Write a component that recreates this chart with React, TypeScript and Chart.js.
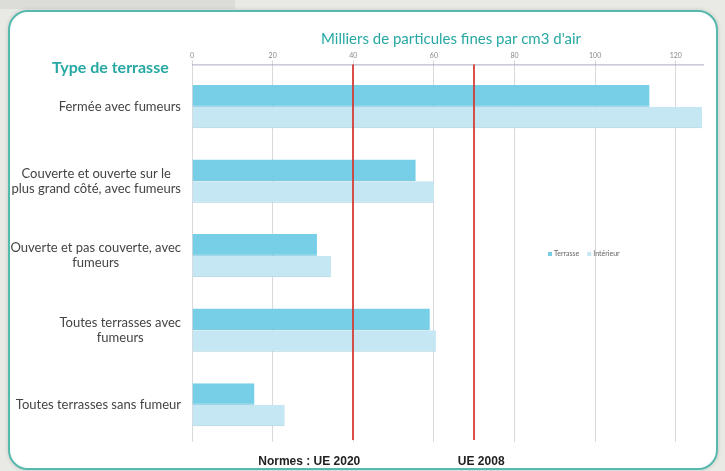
import React, { useEffect, useRef } from "react";
import { Chart, registerables } from "chart.js";
Chart.register(...registerables);

const categories: string[][] = [
  ["Fermée avec fumeurs"],
  ["Couverte et ouverte sur le", "plus grand côté, avec fumeurs"],
  ["Ouverte et pas couverte, avec", "fumeurs"],
  ["Toutes terrasses avec", "fumeurs"],
  ["Toutes terrasses sans fumeur"],
];
const terrasse = [113.5, 55.5, 31, 59, 15.5];
const interieur = [126.5, 60, 34.5, 60.5, 23];
const seriesNames = ["Terrasse", "Intérieur"];
const axisMax = 127;
const tickStep = 20;
const norms = [40, 70];
const normLabels = ["Normes : UE 2020", "UE 2008"];
const axisTitle = "Milliers de particules fines par cm3 d'air";
const categoryTitle = "Type de terrasse";

const COL_T = "#76cfe7";
const COL_I = "#c4e7f3";
const TEAL = "#27a8a2";
const AXIS_GAP = 5;

const overlay = {
  id: "overlay",
  afterDatasetsDraw(chart: any) {
    const { ctx, chartArea, scales } = chart;
    const x = scales.x;
    ctx.save();
    // axis line
    ctx.strokeStyle = "#aaaac4";
    ctx.lineWidth = 1;
    ctx.beginPath();
    ctx.moveTo(chartArea.left, chartArea.top - AXIS_GAP + 0.5);
    ctx.lineTo(chartArea.right, chartArea.top - AXIS_GAP + 0.5);
    ctx.stroke();
    // norm lines
    ctx.strokeStyle = "rgba(214,52,44,0.85)";
    ctx.lineWidth = 2;
    norms.forEach((v) => {
      const px = Math.round(x.getPixelForValue(v));
      ctx.beginPath();
      ctx.moveTo(px, chartArea.top - AXIS_GAP);
      ctx.lineTo(px, chartArea.bottom - 2);
      ctx.stroke();
    });
    ctx.restore();
  },
  afterDraw(chart: any) {
    const { ctx, chartArea, scales } = chart;
    const x = scales.x;
    const y = scales.y;
    ctx.save();
    // category labels
    ctx.font = "13px Lato";
    ctx.fillStyle = "#444";
    ctx.textAlign = "center";
    ctx.textBaseline = "middle";
    const right = chartArea.left - 11;
    const lh = 15;
    categories.forEach((lines, i) => {
      const cy = y.getPixelForValue(i);
      const w = Math.max(...lines.map((l) => ctx.measureText(l).width));
      const cx = right - w / 2;
      lines.forEach((l, j) => {
        ctx.fillText(l, cx, cy + (j - (lines.length - 1) / 2) * lh);
      });
    });
    // axis title
    ctx.font = "15px Lato";
    ctx.fillStyle = TEAL;
    ctx.fillText(axisTitle, 451, 39);
    // category title
    ctx.font = "bold 16px Lato";
    ctx.textAlign = "left";
    ctx.fillText(categoryTitle, 52, 68);
    // norm labels
    ctx.font = "bold 12px 'Liberation Sans'";
    ctx.fillStyle = "#222";
    ctx.textAlign = "right";
    ctx.fillText(normLabels[0], x.getPixelForValue(norms[0]) + 7, 462);
    ctx.textAlign = "center";
    ctx.fillText(normLabels[1], x.getPixelForValue(norms[1]) + 7, 462);
    // legend
    ctx.font = "7px Lato";
    ctx.textAlign = "left";
    let lx = 548;
    const ly = 254;
    [COL_T, COL_I].forEach((c, i) => {
      ctx.fillStyle = c;
      ctx.fillRect(lx, ly - 2, 4, 4);
      ctx.fillStyle = "#666";
      ctx.fillText(seriesNames[i], lx + 6, ly);
      lx += 6 + ctx.measureText(seriesNames[i]).width + 8;
    });
    ctx.restore();
  },
};

export default function App() {
  const ref = useRef<HTMLCanvasElement>(null);
  useEffect(() => {
    if (!ref.current) return;
    const chart = new Chart(ref.current, {
      type: "bar",
      data: {
        labels: categories.map((c) => c.join(" ")),
        datasets: [
          {
            label: seriesNames[0],
            data: terrasse,
            backgroundColor: COL_T,
            borderColor: "#5fb9d3",
            borderWidth: { top: 0, right: 0, bottom: 1, left: 0 },
            borderSkipped: false,
          },
          {
            label: seriesNames[1],
            data: interieur,
            backgroundColor: COL_I,
            borderColor: "#a9cfdd",
            borderWidth: { top: 0, right: 0, bottom: 1, left: 0 },
            borderSkipped: false,
          },
        ],
      },
      options: {
        indexAxis: "y",
        responsive: false,
        animation: false,
        layout: { padding: { left: 192, right: 21, top: 52, bottom: 29 } },
        datasets: { bar: { barPercentage: 1.0, categoryPercentage: 0.58 } },
        plugins: { legend: { display: false }, tooltip: { enabled: false } },
        scales: {
          x: {
            position: "top",
            min: 0,
            max: axisMax,
            afterBuildTicks: (s: any) => {
              s.ticks = s.ticks.filter((t: any) => t.value % tickStep === 0);
            },
            ticks: {
              stepSize: tickStep,
              font: { family: "Lato", size: 7 },
              color: "#888",
              padding: 0,
            },
            grid: { color: "#d9d9d9", tickLength: 9, lineWidth: 1 },
            border: { display: false },
          },
          y: { display: false },
        },
      },
      plugins: [overlay],
    } as any);
    return () => chart.destroy();
  }, []);
  return (
    <div style={{ position: "fixed", left: 0, top: 0, width: 725, height: 471, background: "#e9eae5", overflow: "hidden" }}>
      <div style={{ position: "absolute", left: 0, top: 0, width: 235, height: 9, background: "#dcddd8" }} />
      <div
        style={{
          position: "absolute",
          left: 8,
          top: 10,
          width: 710,
          height: 460,
          boxSizing: "border-box",
          border: "2px solid #55b9ae",
          borderRadius: 20,
          background: "#ffffff",
          boxShadow: "0 0 4px rgba(0,0,0,0.15)",
        }}
      />
      <canvas ref={ref} width={725} height={471} style={{ position: "absolute", left: 0, top: 0 }} />
    </div>
  );
}
